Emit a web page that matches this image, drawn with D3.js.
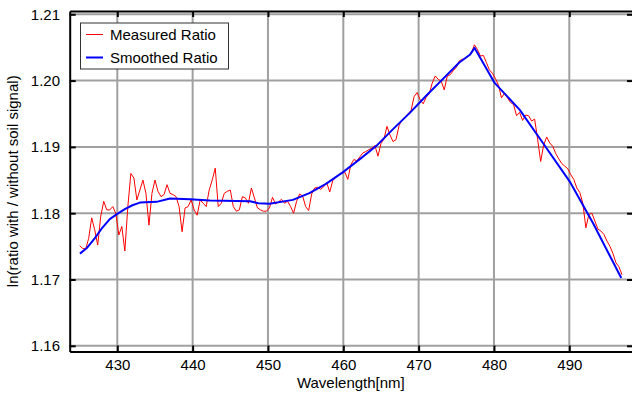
<!DOCTYPE html>
<html><head><meta charset="utf-8">
<script src="https://cdn.jsdelivr.net/npm/d3@7"></script>
<style>html,body{margin:0;padding:0;background:#fff;} svg{display:block;font-family:"Liberation Sans",Arial,Helvetica,sans-serif;}</style>
</head><body><svg id="chart" width="632" height="393"></svg>
<script>
// ---- data ----
const xTicks = [430, 440, 450, 460, 470, 480, 490];
const yTicks = [1.16, 1.17, 1.18, 1.19, 1.20, 1.21];
const seriesNames = ["Measured Ratio", "Smoothed Ratio"];
const xLabel = "Wavelength[nm]";
const yLabel = "ln(ratio with / without soil signal)";

const measuredWavelength = [
425.0,425.4,425.8,426.2,426.6,427.0,427.4,427.8,428.2,428.6,
429.0,429.4,429.8,430.2,430.6,431.0,431.4,431.8,432.2,432.6,
433.0,433.4,433.8,434.2,434.6,435.0,435.4,435.8,436.2,436.6,
437.0,437.4,437.8,438.2,438.6,439.0,439.4,439.8,440.2,440.6,
441.0,441.4,441.8,442.2,442.6,443.0,443.4,443.8,444.2,444.6,
445.0,445.4,445.8,446.2,446.6,447.0,447.4,447.8,448.2,448.6,
449.0,449.4,449.8,450.2,450.6,451.0,451.4,451.8,452.2,452.6,
453.0,453.4,453.8,454.2,454.6,455.0,455.4,455.8,456.2,456.6,
457.0,457.4,457.8,458.2,458.6,459.0,459.4,459.8,460.2,460.6,
461.0,461.4,461.8,462.2,462.6,463.0,463.4,463.8,464.2,464.6,
465.0,465.4,465.8,466.2,466.6,467.0,467.4,467.8,468.2,468.6,
469.0,469.4,469.8,470.2,470.6,471.0,471.4,471.8,472.2,472.6,
473.0,473.4,473.8,474.2,474.6,475.0,475.4,475.8,476.2,476.6,
477.0,477.4,477.8,478.2,478.6,479.0,479.4,479.8,480.2,480.6,
481.0,481.4,481.8,482.2,482.6,483.0,483.4,483.8,484.2,484.6,
485.0,485.4,485.8,486.2,486.6,487.0,487.4,487.8,488.2,488.6,
489.0,489.4,489.8,490.2,490.6,491.0,491.4,491.8,492.2,492.6,
493.0,493.4,493.8,494.2,494.6,495.0,495.4,495.8,496.2,496.6,
497.0];
const measuredRatio = [
1.1751,1.1747,1.1746,1.1762,1.1793,1.1775,1.1752,1.1795,1.1818,1.1805,
1.1805,1.1810,1.1800,1.1767,1.1780,1.1743,1.1810,1.1860,1.1853,1.1820,
1.1835,1.1850,1.1830,1.1782,1.1830,1.1850,1.1833,1.1825,1.1828,1.1843,
1.1830,1.1828,1.1825,1.1810,1.1772,1.1808,1.1810,1.1820,1.1805,1.1797,
1.1820,1.1815,1.1810,1.1835,1.1850,1.1868,1.1810,1.1815,1.1830,1.1833,
1.1835,1.1810,1.1803,1.1805,1.1825,1.1823,1.1815,1.1838,1.1823,1.1808,
1.1805,1.1803,1.1803,1.1808,1.1824,1.1814,1.1817,1.1821,1.1815,1.1818,
1.1810,1.1800,1.1818,1.1829,1.1826,1.1810,1.1804,1.1829,1.1838,1.1839,
1.1836,1.1840,1.1846,1.1832,1.1849,1.1854,1.1858,1.1860,1.1862,1.1851,
1.1873,1.1881,1.1879,1.1885,1.1891,1.1893,1.1896,1.1898,1.1902,1.1886,
1.1905,1.1912,1.1931,1.1918,1.1908,1.1911,1.1932,1.1941,1.1945,1.1950,
1.1955,1.1976,1.1982,1.1971,1.1965,1.1975,1.1980,1.1996,1.2007,1.2002,
1.1999,1.1986,1.2007,1.2009,1.2015,1.2020,1.2030,1.2032,1.2034,1.2037,
1.2041,1.2054,1.2047,1.2037,1.2038,1.2027,1.2016,1.2011,1.2003,1.1993,
1.1974,1.1981,1.1974,1.1967,1.1964,1.1947,1.1952,1.1940,1.1948,1.1947,
1.1939,1.1942,1.1911,1.1878,1.1903,1.1915,1.1906,1.1901,1.1890,1.1882,
1.1875,1.1871,1.1867,1.1858,1.1851,1.1838,1.1831,1.1815,1.1778,1.1798,
1.1800,1.1788,1.1776,1.1773,1.1768,1.1758,1.1750,1.1739,1.1725,1.1719,
1.1707];

const smoothWavelength = [425.04, 426.0, 427.0, 428.0, 429.0, 430.0, 431.0, 432.0, 433.0, 435.22, 436.99, 439.65, 442.3, 447.61, 448.72, 450.2, 453.3, 455.5, 457.7, 459.96, 462.2, 464.4, 466.6, 468.8, 471.0, 473.2, 475.4, 476.8, 477.43, 480.09, 483.4, 486.5, 490.04, 493.14, 496.9];
const smoothRatio = [1.1739, 1.1748, 1.1762, 1.1778, 1.1791, 1.1799, 1.1806, 1.1812, 1.1816, 1.18171, 1.18221, 1.18211, 1.18191, 1.18181, 1.18151, 1.18141, 1.18201, 1.18302, 1.18443, 1.18619, 1.18815, 1.19016, 1.19268, 1.19509, 1.19771, 1.20022, 1.20273, 1.20389, 1.20493, 1.19965, 1.19562, 1.19059, 1.18481, 1.17852, 1.17022];

// ---- layout ----
const pLeft = 69.7, pRight = 633, pTop = 11, pBottom = 351.5;
const x = d3.scaleLinear().domain([423.681, 498.456]).range([pLeft, pRight]);
const y = d3.scaleLinear().domain([1.15914, 1.210498]).range([pBottom, pTop]);
const svg = d3.select("#chart");
const FONT = 15;

// grid
const grid = svg.append("g").attr("stroke", "#a0a0a0").attr("stroke-width", 2);
grid.selectAll("line.v").data(xTicks).join("line").attr("class", "v")
  .attr("x1", d => x(d)).attr("x2", d => x(d)).attr("y1", pTop).attr("y2", pBottom);
grid.selectAll("line.h").data(yTicks).join("line").attr("class", "h")
  .attr("x1", pLeft).attr("x2", pRight).attr("y1", d => y(d)).attr("y2", d => y(d));

// data lines
const measured = measuredWavelength.map((w, i) => [w, measuredRatio[i]]);
const smooth = smoothWavelength.map((w, i) => [w, smoothRatio[i]]);
svg.append("path").datum(measured)
  .attr("fill", "none").attr("stroke", "#ff0000").attr("stroke-width", 1)
  .attr("stroke-linejoin", "round")
  .attr("d", d3.line().x(d => x(d[0])).y(d => y(d[1])));
svg.append("path").datum(smooth)
  .attr("fill", "none").attr("stroke", "#0000ff").attr("stroke-width", 2)
  .attr("stroke-linejoin", "round")
  .attr("d", d3.line().x(d => x(d[0])).y(d => y(d[1])));

// axes
function styleAxis(g) {
  g.select(".domain").attr("stroke", "#000").attr("stroke-width", 2);
  g.selectAll(".tick line").attr("stroke", "#000").attr("stroke-width", 2);
  g.selectAll(".tick text").attr("fill", "#000").style("font-size", FONT + "px")
    .style("font-family", '"Liberation Sans", Arial, Helvetica, sans-serif');
}
svg.append("g").attr("transform", `translate(0,${pBottom})`)
  .call(d3.axisBottom(x).tickValues(xTicks).tickSizeInner(-6).tickSizeOuter(0).tickPadding(8).tickFormat(d3.format("d")))
  .call(styleAxis);
svg.append("g").attr("transform", `translate(${pLeft},0)`)
  .call(d3.axisLeft(y).tickValues(yTicks).tickSizeInner(-6).tickSizeOuter(0).tickPadding(9.7).tickFormat(d3.format(".2f")))
  .call(styleAxis);
svg.append("g").attr("transform", `translate(0,${pTop})`)
  .call(d3.axisTop(x).tickValues(xTicks).tickSizeInner(-6).tickSizeOuter(0).tickFormat(""))
  .call(styleAxis);
svg.append("g").attr("transform", `translate(${pRight},0)`)
  .call(d3.axisRight(y).tickValues(yTicks).tickSizeInner(-6).tickSizeOuter(0).tickFormat(""))
  .call(styleAxis);

// axis titles
svg.append("text").attr("x", (pLeft + 632) / 2).attr("y", 388)
  .attr("text-anchor", "middle").style("font-size", FONT + "px").text(xLabel);
svg.append("text").attr("transform", `translate(17.5,${(pTop + pBottom) / 2}) rotate(-90)`)
  .attr("text-anchor", "middle").style("font-size", FONT + "px").text(yLabel);

// legend
const lg = svg.append("g");
lg.append("rect").attr("x", 80.5).attr("y", 23).attr("width", 148).attr("height", 46)
  .attr("fill", "#fff").attr("stroke", "#333").attr("stroke-width", 1);
const legendColors = ["#ff0000", "#0000ff"];
const legendWidths = [1, 2];
seriesNames.forEach((name, i) => {
  const ly = 34.5 + i * 23;
  lg.append("line").attr("x1", 86).attr("x2", 103).attr("y1", ly).attr("y2", ly)
    .attr("stroke", legendColors[i]).attr("stroke-width", legendWidths[i]);
  lg.append("text").attr("x", 110).attr("y", ly + 5.5).style("font-size", FONT + "px").text(name);
});
</script></body></html>
